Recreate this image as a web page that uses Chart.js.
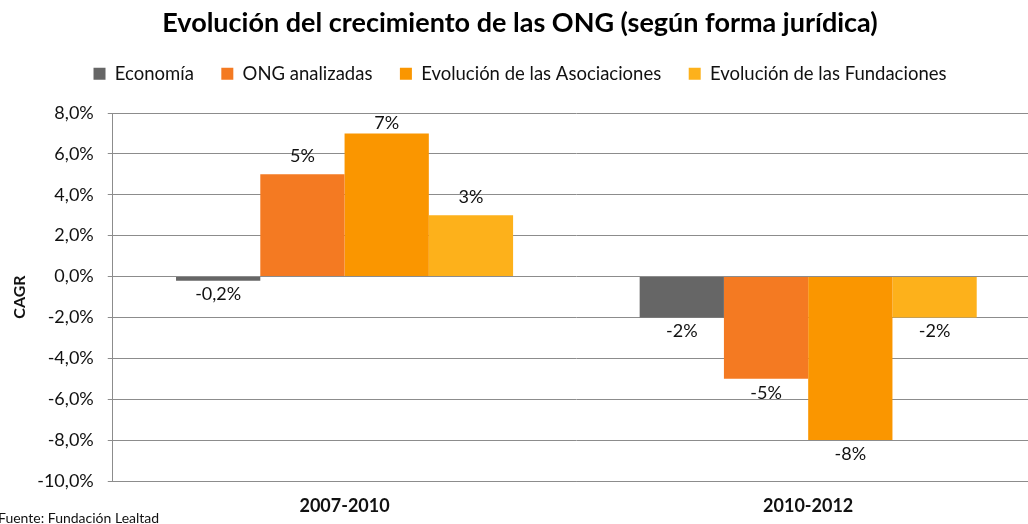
<!DOCTYPE html>
<html lang="es">
<head>
<meta charset="utf-8">
<title>Evolución del crecimiento de las ONG</title>
<script src="https://cdn.jsdelivr.net/npm/chart.js@4.4.1/dist/chart.umd.min.js"></script>
<style>
  html, body { margin: 0; padding: 0; background: #fff; overflow: hidden; }
  #wrap { position: relative; width: 1040px; height: 524px; }
</style>
</head>
<body>
<div id="wrap"><canvas id="chart"></canvas></div>
<script>
// CAGR por periodo y forma jurídica (en %)
const periodos = ['2007-2010', '2010-2012'];
const economia = [-0.2, -2];
const ongAnalizadas = [5, -5];
const asociaciones = [7, -8];
const fundaciones = [3, -2];
const yTicks = [8, 6, 4, 2, 0, -2, -4, -6, -8, -10];

const FONT = 'Lato';
const TEXT = '#111';
const GRID = '#8c8c8c';

function pct(v, decimals) {
    return v.toFixed(decimals).replace('.', ',') + '%';
}

function etiqueta(v) {
    return Number.isInteger(v) ? pct(v, 0) : pct(v, 1);
}

// Etiquetas de valor sobre / bajo cada barra
const valueLabels = {
    id: 'valueLabels',
    afterDatasetsDraw(chart) {
        const ctx = chart.ctx;
        const area = chart.chartArea;
        ctx.save();
        ctx.font = '18px ' + FONT;
        ctx.fillStyle = TEXT;
        ctx.textAlign = 'center';
        ctx.textBaseline = 'middle';
        chart.data.datasets.forEach((ds, i) => {
            chart.getDatasetMeta(i).data.forEach((bar, j) => {
                const v = ds.data[j];
                let y = v >= 0 ? bar.y - 18 : bar.y + 14;
                y = Math.max(y, area.top + 10);
                y = Math.min(y, area.bottom - 10);
                ctx.fillText(etiqueta(v), bar.x, y);
            });
        });
        ctx.restore();
    }
};

// Nota de fuente abajo a la izquierda
const fuente = {
    id: 'fuente',
    afterDraw(chart) {
        const ctx = chart.ctx;
        ctx.save();
        ctx.font = '14px ' + FONT;
        ctx.fillStyle = TEXT;
        ctx.textAlign = 'left';
        ctx.textBaseline = 'middle';
        ctx.fillText('Fuente: Fundación Lealtad', -2, 518);
        ctx.restore();
    }
};

// Espacio extra entre la leyenda y el gráfico
const legendMargin = {
    id: 'legendMargin',
    beforeInit(chart) {
        const fit = chart.legend.fit;
        chart.legend.fit = function () {
            fit.bind(chart.legend)();
            this.height += 20;
        };
    }
};

const ctx = document.getElementById('chart');

new Chart(ctx, {
    type: 'bar',
    data: {
        labels: periodos,
        datasets: [
            { label: 'Economía', data: economia, backgroundColor: '#666666' },
            { label: 'ONG analizadas', data: ongAnalizadas, backgroundColor: '#f47a22' },
            { label: 'Evolución de las Asociaciones', data: asociaciones, backgroundColor: '#fa9600' },
            { label: 'Evolución de las Fundaciones', data: fundaciones, backgroundColor: '#fdb11b' }
        ]
    },
    plugins: [legendMargin, valueLabels, fuente],
    options: {
        responsive: true,
        maintainAspectRatio: false,
        animation: false,
        layout: { padding: 0 },
        datasets: {
            bar: { categoryPercentage: 0.727, barPercentage: 1, borderWidth: 0 }
        },
        plugins: {
            title: {
                display: true,
                text: 'Evolución del crecimiento de las ONG (según forma jurídica)',
                color: '#000',
                font: { family: FONT, size: 27, weight: 'bold', lineHeight: 1 },
                padding: { top: 10, bottom: 0 }
            },
            legend: {
                display: true,
                labels: {
                    boxWidth: 12,
                    boxHeight: 12,
                    padding: 27.5,
                    color: TEXT,
                    font: { family: FONT, size: 18.5 }
                }
            },
            tooltip: { enabled: false }
        },
        scales: {
            x: {
                grid: { display: false, drawTicks: false },
                border: { display: true, color: GRID },
                ticks: {
                    color: TEXT,
                    padding: 14,
                    font: { family: FONT, size: 18, weight: 'bold' }
                },
                afterFit(scale) { scale.height = 43; }
            },
            y: {
                min: -10,
                max: 8,
                afterBuildTicks(scale) {
                    scale.ticks = yTicks.map(v => ({ value: v }));
                },
                grid: { color: GRID, lineWidth: 1, tickLength: 5 },
                border: { display: true, color: GRID },
                ticks: {
                    color: TEXT,
                    padding: 14,
                    font: { family: FONT, size: 18 },
                    callback: v => pct(v, 1)
                },
                title: {
                    display: true,
                    text: 'CAGR',
                    color: TEXT,
                    padding: { top: 10, bottom: 0 },
                    font: { family: FONT, size: 16, weight: 'bold' }
                },
                afterFit(scale) { scale.width = 112.75; }
            }
        }
    }
});
</script>
</body>
</html>
